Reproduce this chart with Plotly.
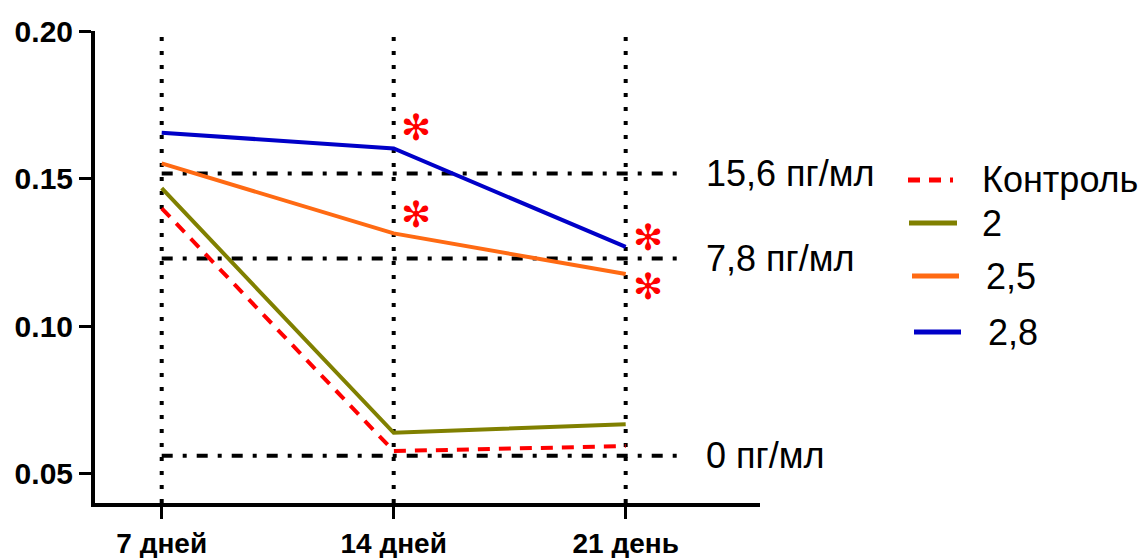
import plotly.graph_objects as go

categories = ["7 дней", "14 дней", "21 день"]
x_pos = [0, 1, 2]

series_names = ["Контроль", "2", "2,5", "2,8"]
control = [0.1399, 0.0576, 0.0593]
s2 = [0.1467, 0.0638, 0.0667]
s25 = [0.1551, 0.1314, 0.1176]
s28 = [0.1655, 0.1602, 0.1268]

ref_values = [0.1517, 0.1229, 0.0560]
ref_labels = ["15,6 пг/мл", "7,8 пг/мл", "0 пг/мл"]
ref_x_end = 2.22

sig_x = [1, 1, 2, 2]
sig_y = [0.1685, 0.1393, 0.1314, 0.1148]

y_ticks = [0.05, 0.10, 0.15, 0.20]
y_range = [0.04, 0.2]
x_range = [-0.2875, 2.579]

colors = {"Контроль": "#ff0000", "2": "#808000", "2,5": "#ff6a13", "2,8": "#0000c8"}

W, H = 1144, 558
ML, MR, MT, MB = 95, 384, 31, 55
PW = W - ML - MR
PH = H - MT - MB

def px2paper_x(px):
    return (px - ML) / PW

def px2paper_y(py):
    return 1 - (py - MT) / PH

fig = go.Figure()

# vertical dotted lines
for xv in x_pos:
    fig.add_trace(go.Scatter(x=[xv, xv], y=y_range, mode="lines",
                             line=dict(color="black", width=4, dash="4px,10px"),
                             showlegend=False, hoverinfo="skip"))

# horizontal dash-dot reference lines
for rv in ref_values:
    fig.add_trace(go.Scatter(x=[x_pos[0], ref_x_end], y=[rv, rv], mode="lines",
                             line=dict(color="black", width=4, dash="11px,10px,4px,10px"),
                             showlegend=False, hoverinfo="skip"))

data = {"Контроль": control, "2": s2, "2,5": s25, "2,8": s28}
for name in series_names:
    dash = "12px,9px" if name == "Контроль" else "solid"
    fig.add_trace(go.Scatter(x=x_pos, y=data[name], mode="lines", name=name,
                             line=dict(color=colors[name], width=4, dash=dash),
                             showlegend=False))

annotations = []
# reference labels
for rv, lab in zip(ref_values, ref_labels):
    annotations.append(dict(x=px2paper_x(704), xref="paper", y=rv, yref="y",
                            text=lab, showarrow=False, xanchor="left", yanchor="middle",
                            font=dict(family="Liberation Sans, Arial, sans-serif", size=36, color="black")))

# significance asterisks
for sx, sy in zip(sig_x, sig_y):
    annotations.append(dict(x=sx, xref="x", y=sy, yref="y", xshift=22, yshift=-4,
                            text="✻", showarrow=False, xanchor="center", yanchor="middle",
                            font=dict(family="DejaVu Sans", size=36, color="#ff0000")))

# manual legend
leg_y = [180, 223, 276, 332]
leg_x0 = [908, 909, 912, 914]
leg_x1 = [953, 957, 959, 961]
leg_tx = [980, 980, 984, 986]
shapes = []
for name, ly, x0, x1, tx in zip(series_names, leg_y, leg_x0, leg_x1, leg_tx):
    dash = "12px,9px" if name == "Контроль" else "solid"
    shapes.append(dict(type="line", xref="paper", yref="paper",
                       x0=px2paper_x(x0), x1=px2paper_x(x1),
                       y0=px2paper_y(ly), y1=px2paper_y(ly),
                       line=dict(color=colors[name], width=5, dash=dash)))
    annotations.append(dict(x=px2paper_x(tx), xref="paper", y=px2paper_y(ly), yref="paper",
                            text=name, showarrow=False, xanchor="left", yanchor="middle",
                            font=dict(family="Liberation Sans, Arial, sans-serif", size=36, color="black")))

fig.update_layout(
    width=W, height=H,
    margin=dict(l=ML, r=MR, t=MT, b=MB),
    paper_bgcolor="white", plot_bgcolor="white",
    showlegend=False,
    annotations=annotations, shapes=shapes,
    xaxis=dict(range=x_range, tickvals=x_pos, ticktext=categories, automargin=False,
               showgrid=False, zeroline=False, showline=True, linecolor="black", linewidth=4,
               ticks="outside", ticklen=12, tickwidth=3, tickcolor="black",
               tickfont=dict(family="Liberation Sans, Arial, sans-serif",
                             size=28, color="black", weight="bold")),
    yaxis=dict(range=y_range, tickvals=y_ticks, ticktext=[f"{v:.2f}" for v in y_ticks], automargin=False,
               showgrid=False, zeroline=False, showline=True, linecolor="black", linewidth=4,
               ticks="outside", ticklen=12, tickwidth=3, tickcolor="black",
               tickfont=dict(family="Liberation Sans, Arial, sans-serif", size=30, color="black", weight="bold")),
)

fig.write_html("out.html")
